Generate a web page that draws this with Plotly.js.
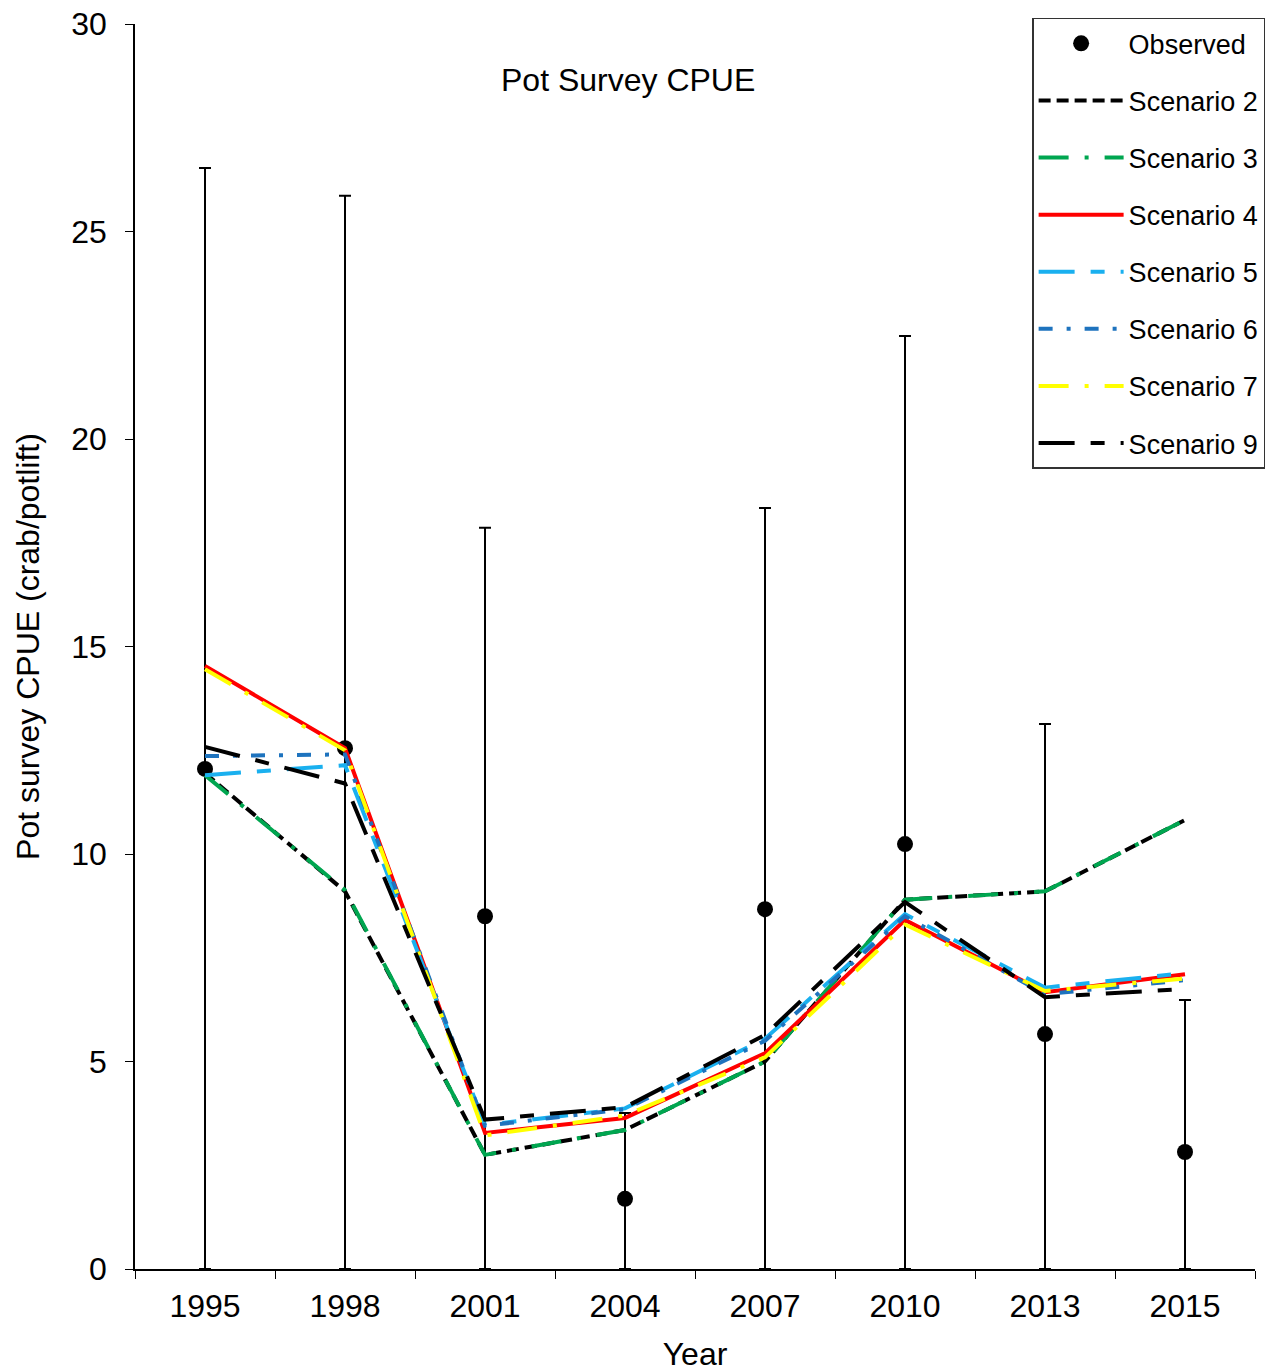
<!DOCTYPE html>
<html>
<head>
<meta charset="utf-8">
<script src="https://cdn.plot.ly/plotly-3.0.1.min.js"></script>
<style>body{margin:0;background:#fff}</style>
</head>
<body>
<div id="cpue" style="width:1283px;height:1372px"></div>
<script>
var years = ['1995', '1998', '2001', '2004', '2007', '2010', '2013', '2015'];

var observed = [12.05, 12.55, 8.5, 1.69, 8.67, 10.24, 5.66, 2.82];
var upperCI = [26.53, 25.86, 17.86, 3.76, 18.34, 22.48, 13.13, 6.48];

var scen2 = [11.95, 9.1, 2.75, 3.35, 5.0, 8.9, 9.1, 10.82];
var scen3 = [11.9, 9.13, 2.75, 3.35, 5.0, 8.9, 9.1, 10.82];
var scen4 = [14.53, 12.55, 3.28, 3.64, 5.2, 8.41, 6.67, 7.1];
var scen5 = [11.9, 12.14, 3.47, 3.87, 5.55, 8.55, 6.78, 7.13];
var scen6 = [12.36, 12.4, 3.45, 3.85, 5.5, 8.5, 6.62, 6.96];
var scen7 = [14.45, 12.5, 3.22, 3.7, 5.1, 8.3, 6.7, 7.0];
var scen9 = [12.58, 11.7, 3.6, 3.9, 5.64, 8.84, 6.55, 6.75];

var errUp = upperCI.map(function (u, i) { return u - observed[i]; });

var observedTrace = {
    x: years,
    y: observed,
    name: 'Observed',
    type: 'scatter',
    mode: 'markers',
    marker: { color: 'black', size: 16 },
    error_y: {
        type: 'data',
        symmetric: false,
        array: errUp,
        arrayminus: observed,
        color: 'black',
        thickness: 2,
        width: 6
    },
    legendgroup: 'g0'
};

function scenario(y, name, color, dash, group) {
    return {
        x: years,
        y: y,
        name: name,
        type: 'scatter',
        mode: 'lines',
        line: { color: color, width: 4, dash: dash },
        legendgroup: group
    };
}

var data = [
    observedTrace,
    scenario(scen2, 'Scenario 2', 'black', '12px,6px', 'g2'),
    scenario(scen3, 'Scenario 3', '#00a650', '30px,16px,4px,16px', 'g3'),
    scenario(scen4, 'Scenario 4', '#ff0000', 'solid', 'g4'),
    scenario(scen5, 'Scenario 5', '#1ab0ef', '36px,16px,14px,16px', 'g5'),
    scenario(scen6, 'Scenario 6', '#1e73be', '14px,14px,4px,14px', 'g6'),
    scenario(scen7, 'Scenario 7', '#ffff00', '30px,16px,4px,16px', 'g7'),
    scenario(scen9, 'Scenario 9', 'black', '36px,16px,14px,16px', 'g9')
];

var layout = {
    width: 1283,
    height: 1372,
    font: { family: 'Arial, "Liberation Sans", sans-serif', size: 32, color: 'black' },
    margin: { l: 135, r: 28, t: 24, b: 103 },
    paper_bgcolor: 'white',
    plot_bgcolor: 'white',
    showlegend: true,
    legend: {
        x: 0.801, y: 1.005,
        xanchor: 'left', yanchor: 'top',
        bordercolor: '#333',
        borderwidth: 1.5,
        bgcolor: 'white',
        font: { size: 27 },
        traceorder: 'grouped',
        tracegroupgap: 19,
        itemwidth: 85
    },
    xaxis: {
        type: 'category',
        range: [-0.5, 7.5],
        tickson: 'boundaries',
        ticks: 'outside',
        ticklen: 8,
        tickcolor: 'black',
        ticklabelstandoff: 8,
        showline: true,
        linecolor: 'black',
        linewidth: 1.5,
        showgrid: false,
        zeroline: false,
        title: { text: 'Year', font: { size: 32 }, standoff: 20 }
    },
    yaxis: {
        range: [0, 30],
        dtick: 5,
        ticks: 'outside',
        ticklen: 8,
        tickcolor: 'black',
        ticklabelstandoff: 12,
        showline: true,
        linecolor: 'black',
        linewidth: 1.5,
        showgrid: false,
        zeroline: false,
        title: { text: 'Pot survey CPUE (crab/potlift)', font: { size: 32 }, standoff: 22 }
    },
    annotations: [{
        text: 'Pot Survey CPUE',
        xref: 'paper', yref: 'paper',
        x: 0.44, y: 0.955,
        yanchor: 'middle',
        showarrow: false,
        font: { size: 32 }
    }]
};

Plotly.newPlot('cpue', data, layout, { displayModeBar: false });
</script>
</body>
</html>
